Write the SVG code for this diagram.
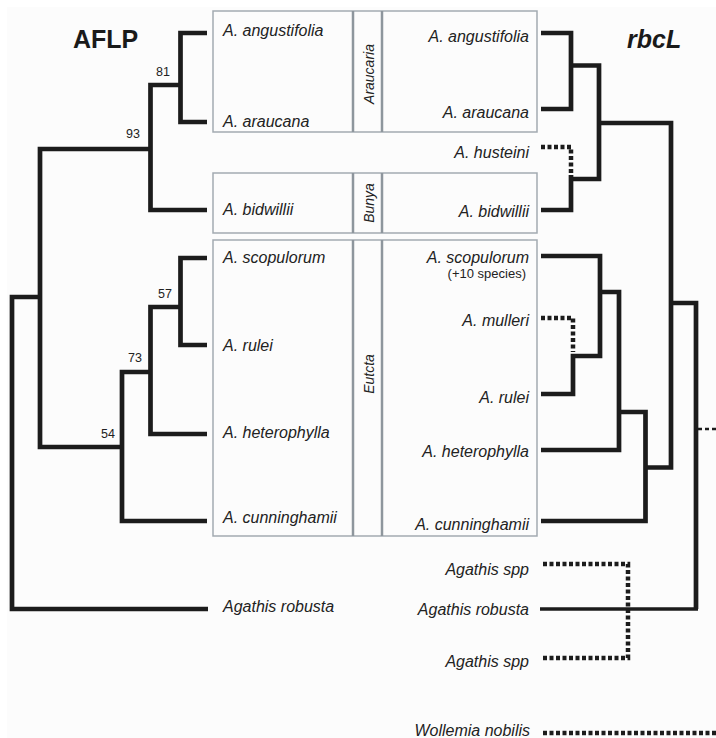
<svg xmlns="http://www.w3.org/2000/svg" width="716" height="738" viewBox="0 0 716 738">
<style>
.lbl{font-family:"Liberation Sans",Arial,sans-serif;font-size:16px;font-style:italic;fill:#222}
.r{text-anchor:end}
.bs{font-family:"Liberation Sans",Arial,sans-serif;font-size:12.5px;fill:#222;text-anchor:middle}
.title{font-family:"Liberation Sans",Arial,sans-serif;font-size:25px;font-weight:bold;fill:#1a1a1a}
.grp{font-family:"Liberation Sans",Arial,sans-serif;font-size:14px;font-style:italic;fill:#222;text-anchor:middle}
.box{fill:none;stroke:#a3aab1;stroke-width:1.5}
.div{stroke:#8e969d;stroke-width:2.5}
.br{fill:none;stroke:#1c1c1c;stroke-width:4.7;stroke-linejoin:miter}
.dash{fill:none;stroke:#1c1c1c;stroke-width:4.5;stroke-dasharray:4 2.5}
</style>
<rect x="0" y="0" width="716" height="738" fill="#ffffff"/>
<rect x="7" y="7" width="709" height="731" fill="#fcfcfc"/>

<g id="titles">
<text class="title" x="73" y="48">AFLP</text>
<text class="title" x="627" y="48" font-style="italic">rbcL</text>
</g>

<g id="boxes">
<g id="box-araucaria">
<rect class="box" x="213" y="11" width="324" height="121"/>
<line class="div" x1="353" y1="11" x2="353" y2="132"/>
<line class="div" x1="382" y1="11" x2="382" y2="132"/>
<text class="grp" transform="translate(374,74) rotate(-90)">Araucaria</text>
</g>
<g id="box-bunya">
<rect class="box" x="213" y="173" width="324" height="60"/>
<line class="div" x1="353" y1="173" x2="353" y2="233"/>
<line class="div" x1="382" y1="173" x2="382" y2="233"/>
<text class="grp" transform="translate(374,203) rotate(-90)">Bunya</text>
</g>
<g id="box-eutacta">
<rect class="box" x="213" y="240" width="324" height="296"/>
<line class="div" x1="353" y1="240" x2="353" y2="536"/>
<line class="div" x1="382" y1="240" x2="382" y2="536"/>
<text class="grp" transform="translate(374,374) rotate(-90)">Eutcta</text>
</g>
</g>

<g id="connectors">
<g id="aflp-tree">
<path class="br" d="M207,33 H180.5 V122 H207"/>
<path class="br" d="M180.5,85 H150.5 V210 H207"/>
<path class="br" d="M150.5,149 H40 V447 H122"/>
<path class="br" d="M207,258 H180.5 V345 H207"/>
<path class="br" d="M180.5,307 H150.5 V434 H207"/>
<path class="br" d="M150.5,372 H122 V521 H207"/>
<path class="br" d="M40,297 H12 V609 H208"/>
</g>
<g id="rbcl-tree">
<path class="br" d="M541,33 H571 V109 H541"/>
<path class="br" d="M571,65.5 H599 V179 H571"/>
<path class="br" d="M541,210 H571 V175"/>
<path class="dash" d="M541,147 H571 V175"/>
<path class="br" d="M599,123 H671 V467.5 H645.5"/>
<path class="br" d="M671,303 H696 V609"/>
<path fill="none" stroke="#1c1c1c" stroke-width="3.5" d="M698,609 H540"/>
<path class="br" d="M541,256 H600 V356 H573 V394 H541"/>
<path class="dash" d="M541,318 H573 V352"/>
<path class="br" d="M600,292 H619 V450 H541"/>
<path class="br" d="M619,412 H645.5 V521 H541"/>
<path class="dash" d="M543,564 H628 V658 H543"/>
<path class="dash" d="M543,733 H716"/>
<path fill="none" stroke="#1c1c1c" stroke-width="2.5" stroke-dasharray="4 3" d="M698,429 H716"/>
</g>
</g>

<g id="bootstrap">
<text class="bs" x="163" y="76">81</text>
<text class="bs" x="133" y="138">93</text>
<text class="bs" x="165" y="298">57</text>
<text class="bs" x="135" y="362">73</text>
<text class="bs" x="108" y="438">54</text>
</g>

<g id="aflp-labels">
<g id="L-angustifolia"><text class="lbl" x="223" y="36">A. angustifolia</text></g>
<g id="L-araucana"><text class="lbl" x="223" y="127">A. araucana</text></g>
<g id="L-bidwillii"><text class="lbl" x="223" y="215">A. bidwillii</text></g>
<g id="L-scopulorum"><text class="lbl" x="223" y="263">A. scopulorum</text></g>
<g id="L-rulei"><text class="lbl" x="223" y="351">A. rulei</text></g>
<g id="L-heterophylla"><text class="lbl" x="223" y="438">A. heterophylla</text></g>
<g id="L-cunninghamii"><text class="lbl" x="223" y="523">A. cunninghamii</text></g>
<g id="L-agathis-robusta"><text class="lbl" x="223" y="612">Agathis robusta</text></g>
</g>

<g id="rbcl-labels">
<g id="R-angustifolia"><text class="lbl r" x="529" y="42">A. angustifolia</text></g>
<g id="R-araucana"><text class="lbl r" x="529" y="118">A. araucana</text></g>
<g id="R-husteini"><text class="lbl r" x="529" y="158">A. husteini</text></g>
<g id="R-bidwillii"><text class="lbl r" x="529" y="217">A. bidwillii</text></g>
<g id="R-scopulorum"><text class="lbl r" x="529" y="263">A. scopulorum</text>
<text x="526" y="278" font-family="Liberation Sans, Arial, sans-serif" font-size="13" fill="#222" text-anchor="end">(+10 species)</text></g>
<g id="R-mulleri"><text class="lbl r" x="529" y="326">A. mulleri</text></g>
<g id="R-rulei"><text class="lbl r" x="529" y="403">A. rulei</text></g>
<g id="R-heterophylla"><text class="lbl r" x="529" y="457">A. heterophylla</text></g>
<g id="R-cunninghamii"><text class="lbl r" x="529" y="530">A. cunninghamii</text></g>
<g id="R-agathis-spp-1"><text class="lbl r" x="529" y="575">Agathis spp</text></g>
<g id="R-agathis-robusta"><text class="lbl r" x="529" y="615">Agathis robusta</text></g>
<g id="R-agathis-spp-2"><text class="lbl r" x="529" y="667">Agathis spp</text></g>
<g id="R-wollemia"><text class="lbl r" x="530" y="736">Wollemia nobilis</text></g>
</g>
</svg>
